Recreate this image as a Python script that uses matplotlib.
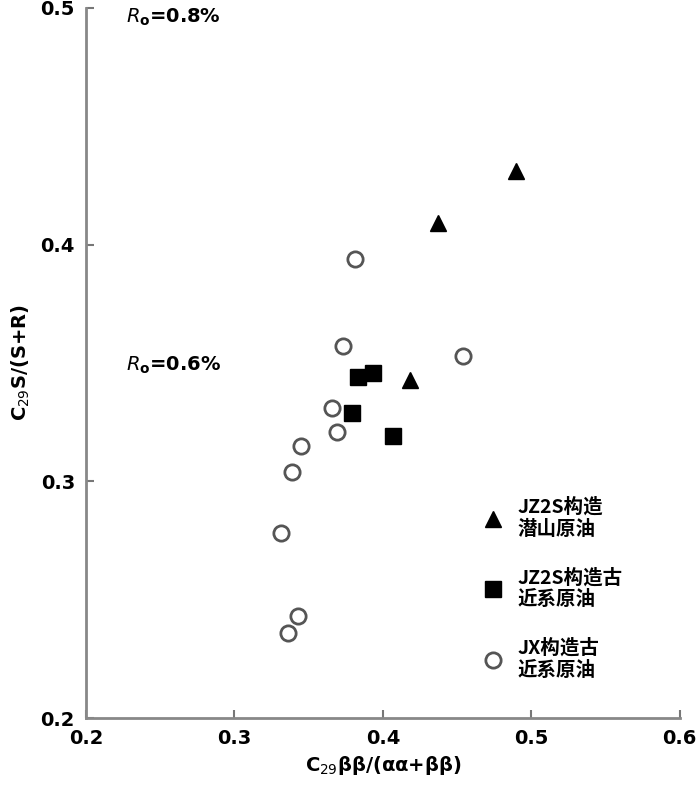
import matplotlib
matplotlib.use("Agg")
import matplotlib.pyplot as plt

plt.rcParams['font.family'] = ['DejaVu Sans', 'Noto Sans CJK SC']

# JZ2S structure, buried-hill oil
jz_hill_x = [0.490, 0.437, 0.418]
jz_hill_y = [0.431, 0.409, 0.343]

# JZ2S structure, Paleogene oil
jz_pal_x = [0.383, 0.393, 0.379, 0.407]
jz_pal_y = [0.344, 0.346, 0.329, 0.319]

# JX structure, Paleogene oil
jx_pal_x = [0.381, 0.373, 0.454, 0.366, 0.369, 0.345, 0.339, 0.331, 0.343, 0.336]
jx_pal_y = [0.394, 0.357, 0.353, 0.331, 0.321, 0.315, 0.304, 0.278, 0.243, 0.236]

labels = ['JZ2S构造\n潜山原油', 'JZ2S构造古\n近系原油', 'JX构造古\n近系原油']
x_ticks = [0.2, 0.3, 0.4, 0.5, 0.6]
y_ticks = [0.2, 0.3, 0.4, 0.5]

fig = plt.figure(figsize=(7.0, 7.97), dpi=100)
ax = fig.add_axes([0.123, 0.099, 0.848, 0.891])

ax.plot(jz_hill_x, jz_hill_y, '^', color='black', markersize=11, linestyle='none', label=labels[0])
ax.plot(jz_pal_x, jz_pal_y, 's', color='black', markersize=11, linestyle='none', label=labels[1])
ax.plot(jx_pal_x, jx_pal_y, 'o', markerfacecolor='white', markeredgecolor='#555555',
        markeredgewidth=2, markersize=11, linestyle='none', label=labels[2])

ax.set_xlim(0.2, 0.6)
ax.set_ylim(0.2, 0.5)
ax.set_xticks(x_ticks)
ax.set_yticks(y_ticks)
ax.set_xticklabels([f'{v:.1f}' for v in x_ticks], fontsize=14, fontweight='bold')
ax.set_yticklabels([f'{v:.1f}' for v in y_ticks], fontsize=14, fontweight='bold')
ax.tick_params(direction='in', length=6, width=1.5, color='#777777', pad=8)

for side in ['top', 'right']:
    ax.spines[side].set_visible(False)
for side in ['left', 'bottom']:
    ax.spines[side].set_color('#888888')
    ax.spines[side].set_linewidth(2)

ax.set_xlabel(r'C$_{29}$ββ/(αα+ββ)', fontsize=14, fontweight='bold', labelpad=4)
ax.set_ylabel(r'C$_{29}$S/(S+R)', fontsize=14, fontweight='bold', labelpad=6)

ax.text(0.227, 0.496, r'$\mathbf{\mathit{R}_o}$=0.8%', fontsize=14, fontweight='bold', va='center')
ax.text(0.227, 0.349, r'$\mathbf{\mathit{R}_o}$=0.6%', fontsize=14, fontweight='bold', va='center')

leg = ax.legend(loc='upper left', bbox_to_anchor=(0.64, 0.322), frameon=False,
                prop={'family': ['Noto Sans CJK SC'], 'size': 14, 'weight': 'bold'},
                handletextpad=0.25, labelspacing=1.5, borderaxespad=0)

fig.savefig('out.png', dpi=100)
